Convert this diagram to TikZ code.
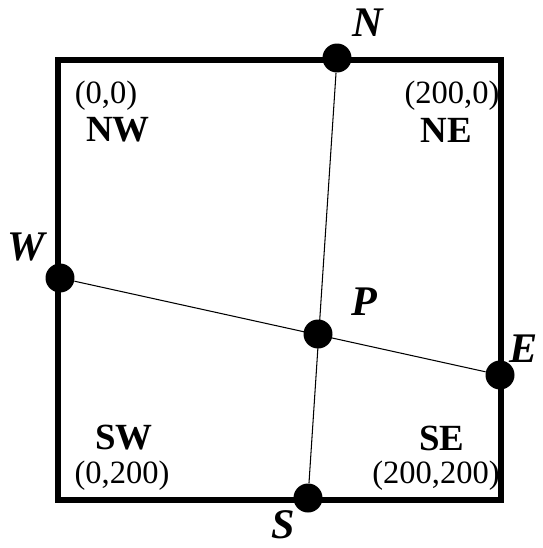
\documentclass[tikz,border=0pt]{standalone}
\usepackage{fontspec}
\setmainfont{Liberation Serif}
\usetikzlibrary{positioning}

\begin{document}
\begin{tikzpicture}[
  x=0.02cm, y=-0.02cm,
  dot/.style={circle,fill=black,inner sep=0pt,minimum size=0.58cm},
  ptlabel/.style={font=\fontsize{24}{24}\selectfont\bfseries\itshape,inner sep=0pt},
  region/.style={font=\fontsize{21}{21}\selectfont\bfseries,inner sep=0pt},
  coord/.style={font=\fontsize{18.5}{18.5}\selectfont,inner sep=0pt},
  split/.style={line width=0.6pt},
]
\useasboundingbox (0,0) rectangle (542,548);

% Frame
\draw[line width=3.2pt] (58,60) rectangle (501,500);

% Corner labels
\node[coord] (c00) at (106,96) {(0,0)};
\node[region] (nw) at (118,130) {NW};
\node[coord] (c200) at (452,96) {(200,0)};
\node[region] (ne) at (446,130) {NE};
\node[region] (sw) at (124,438) {SW};
\node[coord] (c0200) at (122,476) {(0,200)};
\node[region] (se) at (442,438) {SE};
\node[coord] (c200200) at (436,476) {(200,200)};

% Points
\node[dot] (n) at (337,58) {};
\node[dot] (w) at (60,278) {};
\node[dot] (p) at (318,334) {};
\node[dot] (e) at (500,375) {};
\node[dot] (s) at (308,498) {};

% Split lines
\draw[split] (n) -- (s);
\draw[split] (w) -- (e);

% Point labels
\node[ptlabel] (nlab) at (368,23) {N};
\node[ptlabel] (wlab) at (26,247) {W};
\node[ptlabel] (plab) at (364,302) {P};
\node[ptlabel] (elab) at (524,349) {E};
\node[ptlabel] (slab) at (283,525) {S};

\end{tikzpicture}
\end{document}
